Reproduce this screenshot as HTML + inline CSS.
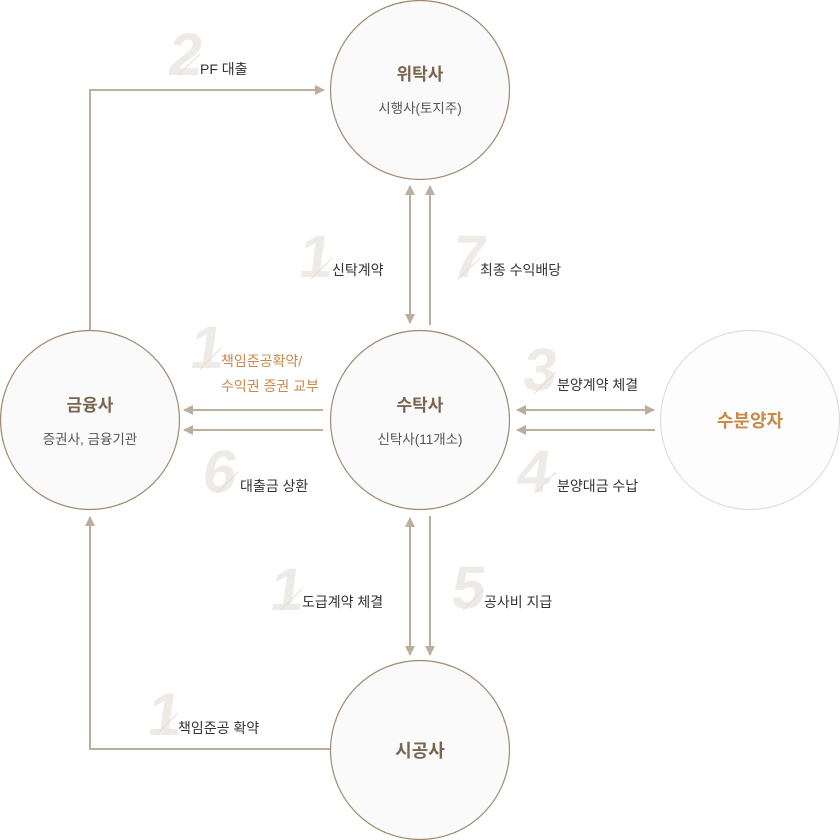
<!DOCTYPE html>
<html><head><meta charset="utf-8"><style>
html,body{margin:0;padding:0;background:#fff;}
svg{display:block;}
text{font-family:"Liberation Sans","Noto Sans CJK KR",sans-serif;}
.n{font-size:60px;font-weight:bold;fill:#eeeae5;}
.l{font-size:14px;fill:#333;}
.o{font-size:14px;fill:#c8894a;}
.t{font-size:17px;font-weight:bold;fill:#7a6650;text-anchor:middle;}
.s{font-size:13.5px;fill:#555;text-anchor:middle;}
.ln{stroke:#bbae9c;stroke-width:2;fill:none;}
.sl{stroke:#e6ddd2;stroke-width:1;}
</style></head><body>
<svg width="840" height="840" viewBox="0 0 840 840">
<defs>
<marker id="a" viewBox="0 0 10 10" refX="9" refY="5" markerWidth="5" markerHeight="5" orient="auto-start-reverse" markerUnits="strokeWidth">
<path d="M0,0 L10,5 L0,10 z" fill="#bbae9c"/>
</marker>
</defs>
<circle cx="420" cy="90" r="89.5" fill="#fafafa" stroke="#a08a70" stroke-width="1.2"/>
<circle cx="420" cy="420" r="89.5" fill="#fafafa" stroke="#a08a70" stroke-width="1.2"/>
<circle cx="90" cy="420" r="89.5" fill="#fafafa" stroke="#a08a70" stroke-width="1.2"/>
<circle cx="750" cy="420" r="89.5" fill="#fdfdfd" stroke="#e0dedb" stroke-width="1.2"/>
<circle cx="420" cy="750" r="89.5" fill="#fafafa" stroke="#a08a70" stroke-width="1.2"/>

<g transform="skewX(-8)">
<text class="n" x="177" y="75">2</text>
<text class="n" x="336" y="277">1</text>
<text class="n" x="489" y="277">7</text>
<text class="n" x="240" y="368">1</text>
<text class="n" x="576" y="390">3</text>
<text class="n" x="270" y="492">6</text>
<text class="n" x="584" y="492">4</text>
<text class="n" x="354" y="610">1</text>
<text class="n" x="535" y="608">5</text>
<text class="n" x="249" y="735">1</text>
</g>
<line class="sl" x1="178" y1="75" x2="200" y2="54"/>
<line class="sl" x1="311" y1="279" x2="332" y2="258"/>
<line class="sl" x1="458" y1="279" x2="480" y2="258"/>
<line class="sl" x1="200" y1="369" x2="221" y2="348"/>
<line class="sl" x1="535" y1="393" x2="556" y2="372"/>
<line class="sl" x1="217" y1="493" x2="238" y2="472"/>
<line class="sl" x1="535" y1="493" x2="556" y2="472"/>
<line class="sl" x1="281" y1="610" x2="302" y2="589"/>
<line class="sl" x1="463" y1="610" x2="484" y2="589"/>
<line class="sl" x1="156" y1="735" x2="177" y2="714"/>

<text class="l" x="200" y="74">PF 대출</text>
<text class="l" x="332" y="275">신탁계약</text>
<text class="l" x="480" y="275">최종 수익배당</text>
<text class="o" x="221" y="366">책임준공확약/</text>
<text class="o" x="221" y="391">수익권 증권 교부</text>
<text class="l" x="557" y="390">분양계약 체결</text>
<text class="l" x="240" y="491">대출금 상환</text>
<text class="l" x="557" y="491">분양대금 수납</text>
<text class="l" x="302" y="607">도급계약 체결</text>
<text class="l" x="484" y="607">공사비 지급</text>
<text class="l" x="178" y="733">책임준공 확약</text>

<polyline class="ln" points="90,330 90,90 324,90" marker-end="url(#a)"/>
<line class="ln" x1="410" y1="186" x2="410" y2="323" marker-start="url(#a)" marker-end="url(#a)"/>
<line class="ln" x1="430" y1="325" x2="430" y2="186" marker-end="url(#a)"/>
<line class="ln" x1="323" y1="410" x2="184" y2="410" marker-end="url(#a)"/>
<line class="ln" x1="323" y1="430" x2="184" y2="430" marker-end="url(#a)"/>
<line class="ln" x1="517" y1="410" x2="654" y2="410" marker-start="url(#a)" marker-end="url(#a)"/>
<line class="ln" x1="655" y1="430" x2="517" y2="430" marker-end="url(#a)"/>
<line class="ln" x1="410" y1="518" x2="410" y2="655" marker-start="url(#a)" marker-end="url(#a)"/>
<line class="ln" x1="430" y1="516" x2="430" y2="655" marker-end="url(#a)"/>
<polyline class="ln" points="330,749 90,749 90,517" marker-end="url(#a)"/>

<text class="t" x="420" y="80">위탁사</text>
<text class="s" x="420" y="113">시행사(토지주)</text>
<text class="t" x="420" y="411">수탁사</text>
<text class="s" x="420" y="444">신탁사(11개소)</text>
<text class="t" x="90" y="411">금융사</text>
<text class="s" x="90" y="444">증권사, 금융기관</text>
<text class="t" x="750" y="427" style="fill:#c8894a;font-size:18px">수분양자</text>
<text class="t" x="420" y="757" style="font-size:18px">시공사</text>
</svg>
</body></html>
